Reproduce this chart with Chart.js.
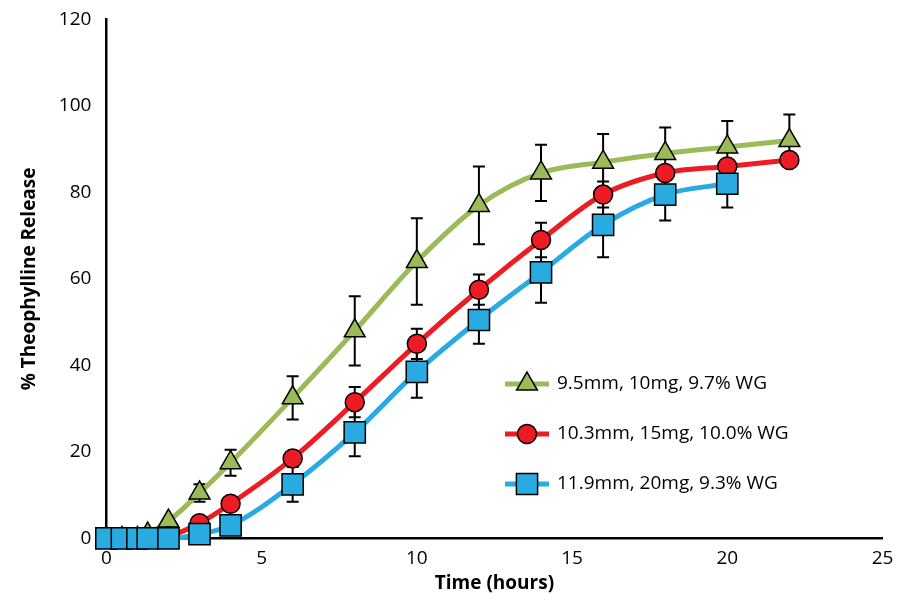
<!DOCTYPE html>
<html><head>
<script src="https://cdn.jsdelivr.net/npm/chart.js@4.4.0/dist/chart.umd.min.js"></script>
<style>body{margin:0;background:#fff}#wrap{width:899px;height:603px}</style>
</head><body><div id="wrap"><canvas id="c"></canvas></div>
<script>
// ── Data ──────────────────────────────────────────
const times = [0, 0.5, 1, 1.33, 2, 3, 4, 6, 8, 10, 12, 14, 16, 18, 20, 22];
const green = [0, 0, 0, 1, 4, 10.5, 17.5, 32.5, 48, 64, 77, 84.5, 87, 89, 90.5, 92];
const greenErr = [0, 0, 0, 0, 0, 2, 3, 5, 8, 10, 9, 6.5, 6.5, 6, 6, 6];
const red = [0, 0, 0, 0, 0.5, 3.5, 8, 18.5, 31.5, 45, 57.5, 69, 79.5, 84.5, 86, 87.5];
const redErr = [0, 0, 0, 0, 0, 1, 1, 1, 3.5, 3.5, 3.5, 4, 3, 1.5, 1, 1];
const blue = [0, 0, 0, 0, 0, 1, 3, 12.5, 24.5, 38.5, 50.5, 61.5, 72.5, 79.5, 82];
const blueErr = [0, 0, 0, 0, 0, 0, 0, 4, 5.5, 6, 5.5, 7, 7.5, 6, 5.5];
const labels = ['9.5mm, 10mg, 9.7% WG', '10.3mm, 15mg, 10.0% WG', '11.9mm, 20mg, 9.3% WG'];

const FONT = "'Open Sans', 'Liberation Sans', sans-serif";
const pts = (ys) => ys.map((y, i) => ({ x: times[i], y }));

function series(label, ys, err, color, style, radius, order) {
    return {
        label, data: pts(ys), err,
        borderColor: color, backgroundColor: color,
        borderWidth: 5, cubicInterpolationMode: 'monotone', clip: false,
        pointStyle: style, pointRadius: radius,
        pointBackgroundColor: color, pointBorderColor: '#000', pointBorderWidth: 1.5,
        order
    };
}

// ── Error bars + legend plugin ────────────────────
const extras = {
    id: 'extras',
    beforeDatasetsDraw(chart) {
        const ctx = chart.ctx, ys = chart.scales.y;
        ctx.save();
        ctx.strokeStyle = '#000'; ctx.lineWidth = 2;
        chart.data.datasets.forEach((ds, di) => {
            chart.getDatasetMeta(di).data.forEach((p, i) => {
                const e = ds.err[i]; if (!e) return;
                const v = ds.data[i].y;
                const t = ys.getPixelForValue(v + e), b = ys.getPixelForValue(v - e);
                ctx.beginPath();
                ctx.moveTo(p.x, t); ctx.lineTo(p.x, b);
                ctx.moveTo(p.x - 6, t); ctx.lineTo(p.x + 6, t);
                ctx.moveTo(p.x - 6, b); ctx.lineTo(p.x + 6, b);
                ctx.stroke();
            });
        });
        ctx.restore();
    },
    afterDraw(chart) {
        const ctx = chart.ctx;
        ctx.save();
        ctx.font = '19px ' + FONT; ctx.textBaseline = 'middle';
        chart.data.datasets.forEach((ds, i) => {
            const y = 384 + i * 50;
            ctx.strokeStyle = ds.borderColor; ctx.lineWidth = 5;
            ctx.beginPath(); ctx.moveTo(505, y); ctx.lineTo(549, y); ctx.stroke();
            ctx.fillStyle = ds.borderColor; ctx.strokeStyle = '#000'; ctx.lineWidth = 1.5;
            Chart.helpers.drawPoint(ctx, { pointStyle: ds.pointStyle, radius: ds.pointRadius, borderWidth: 1.5 }, 527, y);
            ctx.fillStyle = '#000';
            ctx.fillText(labels[i], 557, y);
        });
        ctx.restore();
    }
};

new Chart(document.getElementById('c'), {
    type: 'line',
    data: {
        datasets: [
            series(labels[0], green, greenErr, '#9bbb59', 'triangle', 12, 3),
            series(labels[1], red, redErr, '#ed1c24', 'circle', 9.5, 2),
            series(labels[2], blue, blueErr, '#29abe2', 'rect', 15, 1)
        ]
    },
    options: {
        responsive: true, maintainAspectRatio: false, animation: false,
        layout: { padding: { top: 12, right: 14, left: 8, bottom: 8 } },
        plugins: { legend: { display: false }, tooltip: { enabled: false } },
        scales: {
            x: {
                type: 'linear', min: 0, max: 25,
                grid: { display: false, drawTicks: true, tickLength: 7, tickColor: '#000' },
                border: { color: '#000', width: 2.5 },
                ticks: { stepSize: 5, color: '#000', padding: 2, font: { family: FONT, size: 19 } },
                title: { display: true, text: 'Time (hours)', color: '#000', padding: { top: 0, bottom: 0 },
                         font: { family: FONT, size: 19, weight: 'bold' } }
            },
            y: {
                min: 0, max: 120,
                grid: { display: false, drawTicks: true, tickLength: 7, tickColor: '#000' },
                border: { color: '#000', width: 2.5 },
                ticks: { stepSize: 20, color: '#000', padding: 8, font: { family: FONT, size: 19 } },
                title: { display: true, text: '% Theophylline Release', color: '#000', padding: 10,
                         font: { family: FONT, size: 19, weight: 'bold' } }
            }
        }
    },
    plugins: [extras]
});
</script>
</body></html>
